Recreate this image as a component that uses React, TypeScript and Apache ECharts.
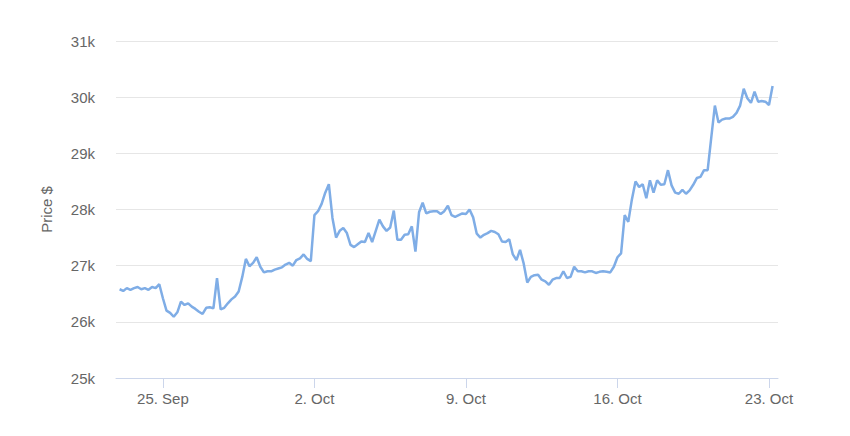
import { useEffect, useRef } from 'react';
import * as echarts from 'echarts';

// BTC price, one reading every 4 hours starting 23 Sep 2023 00:00 UTC
const START = Date.UTC(2023, 8, 23, 0);
const STEP_MS = 4 * 3600 * 1000;

const prices: number[] = [
  26.58, 26.55, 26.6, 26.57, 26.6, 26.62, 26.58, 26.6, 26.57, 26.62,
  26.6, 26.67, 26.42, 26.2, 26.16, 26.09, 26.17, 26.36, 26.3, 26.33,
  26.27, 26.23, 26.18, 26.14, 26.25, 26.26, 26.24, 26.78, 26.22, 26.25,
  26.33, 26.4, 26.45, 26.54, 26.8, 27.12, 26.99, 27.05, 27.15, 26.98,
  26.88, 26.9, 26.9, 26.93, 26.95, 26.97, 27.02, 27.05, 27.0, 27.1,
  27.13, 27.2, 27.12, 27.08, 27.9, 27.97, 28.1, 28.3, 28.45, 27.85,
  27.5, 27.62, 27.67, 27.58, 27.37, 27.33, 27.38, 27.43, 27.42, 27.58,
  27.42, 27.62, 27.82, 27.7, 27.62, 27.68, 27.98, 27.46, 27.46, 27.55,
  27.56, 27.7, 27.25, 27.95, 28.12, 27.93, 27.96, 27.97, 27.97, 27.92,
  27.97, 28.07, 27.9, 27.87, 27.9, 27.93, 27.92, 28.0, 27.86, 27.57,
  27.5, 27.55, 27.58, 27.62, 27.6, 27.56, 27.43, 27.42, 27.47, 27.2,
  27.1, 27.28, 27.04, 26.7, 26.8, 26.83, 26.84, 26.75, 26.72, 26.66,
  26.75, 26.78, 26.78, 26.9, 26.78, 26.8, 26.98, 26.9, 26.9, 26.88,
  26.9, 26.9, 26.87, 26.89, 26.9, 26.89, 26.88, 26.98, 27.15, 27.22,
  27.9, 27.78, 28.18, 28.5, 28.4, 28.45, 28.2, 28.52, 28.3, 28.52,
  28.44, 28.45, 28.7, 28.43, 28.3, 28.28, 28.35, 28.28, 28.34, 28.44,
  28.56, 28.58, 28.7, 28.7, 29.28, 29.85, 29.55, 29.6, 29.62, 29.62,
  29.65, 29.72, 29.85, 30.15, 29.98, 29.9, 30.1, 29.92, 29.93, 29.92,
  29.86, 30.2,
];

const xTicks = [
  Date.UTC(2023, 8, 25),
  Date.UTC(2023, 9, 2),
  Date.UTC(2023, 9, 9),
  Date.UTC(2023, 9, 16),
  Date.UTC(2023, 9, 23),
];
const MONTHS = ['Jan', 'Feb', 'Mar', 'Apr', 'May', 'Jun', 'Jul', 'Aug', 'Sep', 'Oct', 'Nov', 'Dec'];

const FONT = '"Liberation Sans", Arial, Helvetica, sans-serif';

export default function App() {
  const ref = useRef<HTMLDivElement>(null);

  useEffect(() => {
    document.body.style.margin = '0';
    const dom = ref.current;
    if (!dom) return;
    const chart = echarts.init(dom, undefined, { renderer: 'svg' });

    const series = prices.map((v, i) => [START + i * STEP_MS, v * 1000]);

    chart.setOption({
      animation: false,
      textStyle: { fontFamily: FONT },
      grid: { left: 116, right: 72, top: 41, bottom: 58 },
      xAxis: {
        type: 'value',
        min: Date.UTC(2023, 8, 22, 20),
        max: Date.UTC(2023, 9, 23, 10),
        axisLine: { lineStyle: { color: '#ccd6eb', width: 1 } },
        axisTick: {
          show: true,
          length: 10,
          customValues: xTicks,
          lineStyle: { color: '#ccd6eb' },
        },
        axisLabel: {
          customValues: xTicks,
          color: '#666666',
          fontSize: 15,
          margin: 13,
          formatter: (v: number) => {
            const d = new Date(v);
            return `${d.getUTCDate()}. ${MONTHS[d.getUTCMonth()]}`;
          },
        },
        splitLine: { show: false },
      },
      yAxis: {
        type: 'value',
        min: 25000,
        max: 31000,
        interval: 1000,
        name: 'Price $',
        nameLocation: 'middle',
        nameGap: 62,
        nameTextStyle: { color: '#666666', fontSize: 15 },
        axisLine: { show: false },
        axisTick: { show: false },
        axisLabel: {
          color: '#666666',
          fontSize: 15,
          margin: 21,
          formatter: (v: number) => `${v / 1000}k`,
        },
        splitLine: { lineStyle: { color: '#e6e6e6', width: 1 } },
      },
      series: [
        {
          type: 'line',
          name: 'Price',
          data: series,
          showSymbol: false,
          lineStyle: { color: '#7fade6', width: 2.5 },
          itemStyle: { color: '#7fade6' },
        },
      ],
    } as echarts.EChartsOption);

    return () => {
      chart.dispose();
    };
  }, []);

  return <div ref={ref} style={{ width: 850, height: 436 }} />;
}
